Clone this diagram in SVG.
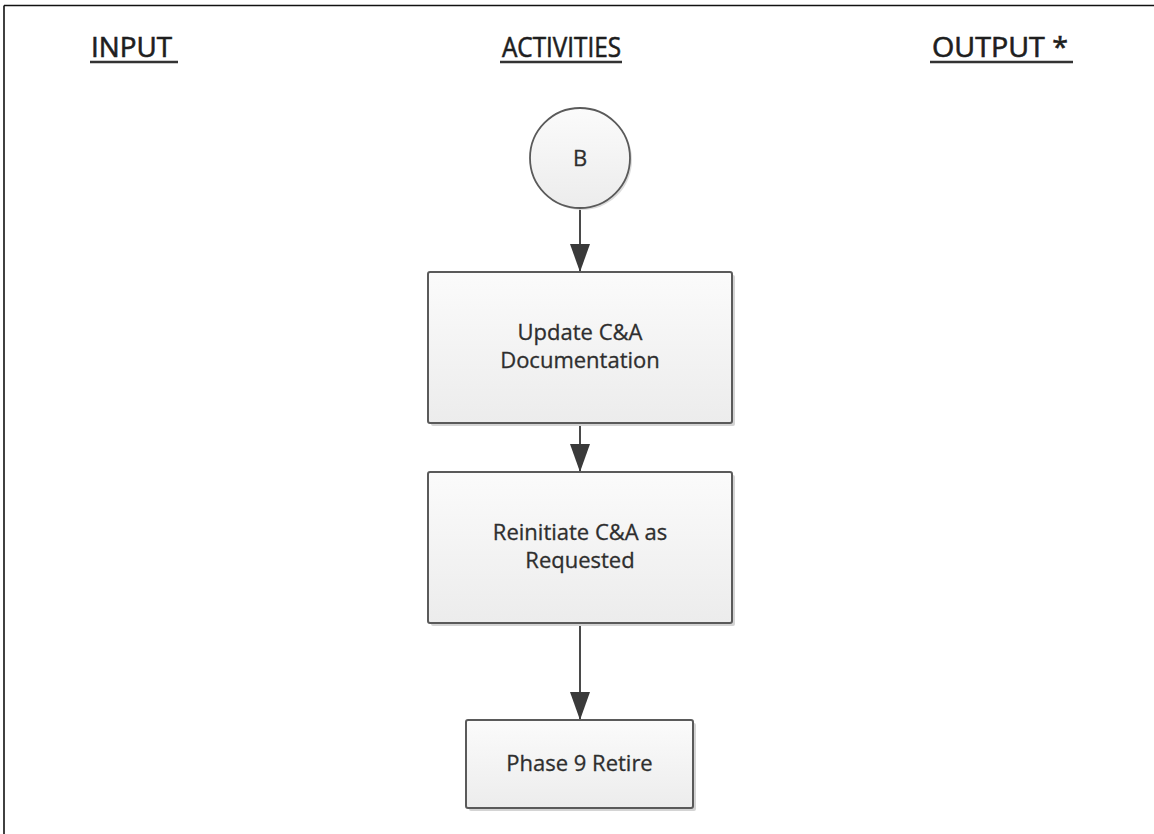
<svg xmlns="http://www.w3.org/2000/svg" width="1154" height="834" viewBox="0 0 1154 834">
  <style>
    .hdr { font-family: "Open Sans", "Liberation Sans", sans-serif; font-size: 27px; fill: #1e1e1e; stroke: #1e1e1e; stroke-width: 0.6; }
    .ul { stroke: #333; stroke-width: 2.5; }
    .box { fill: url(#boxFill); stroke: #5a5a5a; stroke-width: 2; }
    .shadow { fill: #d4d4d4; }
    .lbl { font-family: "Open Sans", "Liberation Sans", sans-serif; font-size: 22px; fill: #2e2e2e; stroke: #2e2e2e; stroke-width: 0.3; text-anchor: middle; }
  </style>
  <defs>
    <linearGradient id="boxFill" x1="0" y1="0" x2="0" y2="1">
      <stop offset="0" stop-color="#fbfbfb"/>
      <stop offset="1" stop-color="#ececec"/>
    </linearGradient>
    <marker id="arrowHead" viewBox="0 0 28 20" refX="28" refY="10" markerWidth="28" markerHeight="20" markerUnits="userSpaceOnUse" orient="auto">
      <path d="M0,0 L28,10 L0,20 Z" fill="#3a3a3a"/>
    </marker>
  </defs>

  <rect x="0" y="0" width="1154" height="834" fill="#ffffff"/>

  <!-- frame: top and left edges -->
  <g id="frame" stroke="#111" stroke-width="1.6" fill="none">
    <line x1="4" y1="5.5" x2="1154" y2="5.5"/>
    <line x1="4" y1="5.5" x2="4" y2="834"/>
  </g>

  <!-- column headings -->
  <g id="headings">
    <text class="hdr" x="91" y="57" textLength="81" lengthAdjust="spacingAndGlyphs">INPUT</text>
    <line class="ul" x1="90" y1="62" x2="178" y2="62"/>
    <text class="hdr" x="502" y="57" textLength="119" lengthAdjust="spacingAndGlyphs">ACTIVITIES</text>
    <line class="ul" x1="500" y1="62" x2="622" y2="62"/>
    <text class="hdr" x="932" y="57" textLength="136" lengthAdjust="spacingAndGlyphs">OUTPUT *</text>
    <line class="ul" x1="930" y1="62" x2="1073" y2="62"/>
  </g>

  <!-- connectors -->
  <g id="connectors" stroke="#4a4a4a" stroke-width="2" fill="none">
    <line x1="580" y1="208" x2="580" y2="272" marker-end="url(#arrowHead)"/>
    <line x1="580" y1="423" x2="580" y2="472" marker-end="url(#arrowHead)"/>
    <line x1="580" y1="623" x2="580" y2="720" marker-end="url(#arrowHead)"/>
  </g>

  <!-- connector B -->
  <g id="node-b">
    <circle cx="582" cy="160" r="50" fill="#dcdcdc"/>
    <circle cx="580" cy="158" r="50" fill="url(#boxFill)" stroke="#5a5a5a" stroke-width="1.8"/>
    <text class="lbl" x="580" y="166">B</text>
  </g>

  <!-- Update C&A Documentation -->
  <g id="node-update">
    <rect class="shadow" x="431" y="275" width="304" height="151" rx="2"/>
    <rect class="box" x="428" y="272" width="304" height="151" rx="2"/>
    <text class="lbl" x="580" y="340">Update C&amp;A</text>
    <text class="lbl" x="580" y="368">Documentation</text>
  </g>

  <!-- Reinitiate C&A as Requested -->
  <g id="node-reinitiate">
    <rect class="shadow" x="431" y="475" width="304" height="151" rx="2"/>
    <rect class="box" x="428" y="472" width="304" height="151" rx="2"/>
    <text class="lbl" x="580" y="540">Reinitiate C&amp;A as</text>
    <text class="lbl" x="580" y="568">Requested</text>
  </g>

  <!-- Phase 9 Retire -->
  <g id="node-retire">
    <rect class="shadow" x="469" y="723" width="227" height="88" rx="2"/>
    <rect class="box" x="466" y="720" width="227" height="88" rx="2"/>
    <text class="lbl" x="579.5" y="771">Phase 9 Retire</text>
  </g>
</svg>
